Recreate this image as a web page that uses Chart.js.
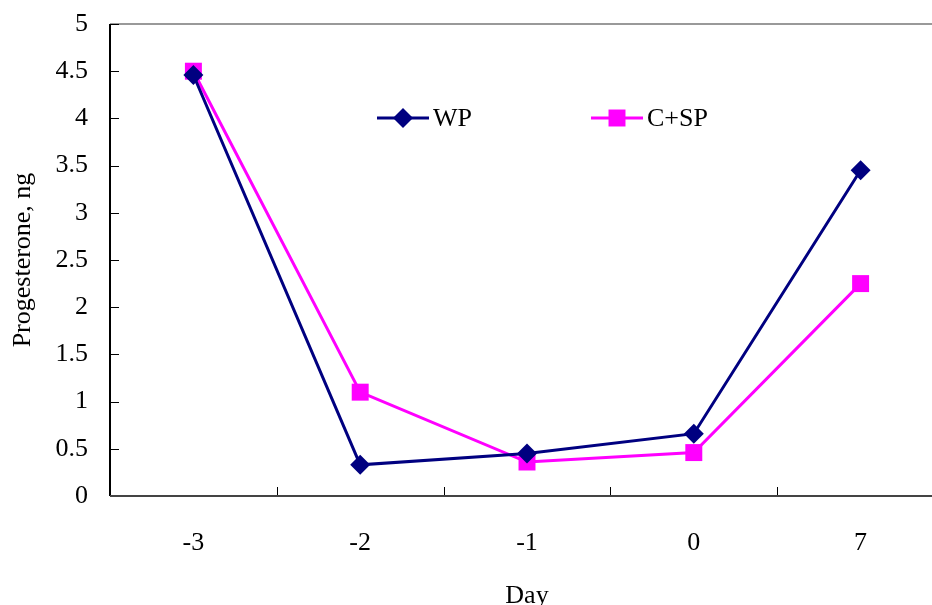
<!DOCTYPE html>
<html>
<head>
<meta charset="utf-8">
<script src="https://cdn.jsdelivr.net/npm/chart.js@4/dist/chart.umd.min.js"></script>
<style>
  html, body { margin: 0; padding: 0; background: #fff; overflow: hidden; }
  #wrap { width: 956px; height: 605px; }
</style>
</head>
<body>
<div id="wrap"><canvas id="chart" width="956" height="605"></canvas></div>
<script>
// Progesterone by day
const days = ['-3', '-2', '-1', '0', '7'];
const wp = [4.46, 0.33, 0.45, 0.66, 3.45];
const csp = [4.5, 1.1, 0.36, 0.46, 2.25];
const yTicks = [0, 0.5, 1, 1.5, 2, 2.5, 3, 3.5, 4, 4.5, 5];

const navy = '#000080';
const magenta = '#FF00FF';
const serif = "'Liberation Serif', 'DejaVu Serif', serif";

// inward tick marks + gray top border
const axisMarks = {
    id: 'axisMarks',
    afterDatasetsDraw(chart) {
        const ctx = chart.ctx;
        const a = chart.chartArea;
        const x = chart.scales.x, y = chart.scales.y;
        ctx.save();
        ctx.strokeStyle = '#999';
        ctx.lineWidth = 2;
        ctx.beginPath();
        ctx.moveTo(a.left, a.top);
        ctx.lineTo(a.right, a.top);
        ctx.stroke();
        ctx.strokeStyle = '#000';
        ctx.lineWidth = 1;
        ctx.beginPath();
        yTicks.forEach(v => {
            const py = Math.round(y.getPixelForValue(v)) + 0.5;
            ctx.moveTo(a.left, py);
            ctx.lineTo(a.left + 9, py);
        });
        for (let i = 1; i < days.length; i++) {
            const px = Math.round((x.getPixelForTick(i - 1) + x.getPixelForTick(i)) / 2) + 0.5;
            ctx.moveTo(px, a.bottom);
            ctx.lineTo(px, a.bottom - 9);
        }
        ctx.stroke();
        ctx.strokeStyle = '#000';
        ctx.lineWidth = 2;
        ctx.beginPath();
        ctx.moveTo(a.left, a.top);
        ctx.lineTo(a.left, a.bottom);
        ctx.stroke();
        ctx.strokeStyle = '#444';
        ctx.beginPath();
        ctx.moveTo(a.left, a.bottom);
        ctx.lineTo(a.right, a.bottom);
        ctx.stroke();
        ctx.restore();
    }
};

// legend drawn inside plot area
const innerLegend = {
    id: 'innerLegend',
    afterDraw(chart) {
        const ctx = chart.ctx;
        const items = [
            { ds: chart.data.datasets[0], x: 377 },
            { ds: chart.data.datasets[1], x: 591 }
        ];
        const ly = 118;
        ctx.save();
        items.forEach(it => {
            ctx.strokeStyle = it.ds.borderColor;
            ctx.lineWidth = 3;
            ctx.beginPath();
            ctx.moveTo(it.x, ly);
            ctx.lineTo(it.x + 52, ly);
            ctx.stroke();
            ctx.fillStyle = it.ds.pointBackgroundColor;
            Chart.helpers.drawPoint(ctx, {
                pointStyle: it.ds.pointStyle,
                rotation: 0,
                radius: it.ds.pointRadius,
                borderWidth: 0
            }, it.x + 26, ly);
            ctx.fillStyle = '#000';
            ctx.font = '26px ' + serif;
            ctx.textBaseline = 'middle';
            ctx.fillText(it.ds.label, it.x + 56, ly + 1);
        });
        ctx.restore();
    }
};

new Chart(document.getElementById('chart'), {
    type: 'line',
    data: {
        labels: days,
        datasets: [
            {
                label: 'WP',
                data: wp,
                borderColor: navy,
                backgroundColor: navy,
                pointBackgroundColor: navy,
                pointBorderColor: navy,
                pointBorderWidth: 0,
                pointStyle: 'rectRot',
                pointRadius: 10,
                borderWidth: 3,
                tension: 0
            },
            {
                label: 'C+SP',
                data: csp,
                borderColor: magenta,
                backgroundColor: magenta,
                pointBackgroundColor: magenta,
                pointBorderColor: magenta,
                pointBorderWidth: 0,
                pointStyle: 'rect',
                pointRadius: 12,
                borderWidth: 3,
                tension: 0
            }
        ]
    },
    options: {
        responsive: false,
        animation: false,
        layout: { padding: { top: 24, right: 8, left: 0, bottom: 0 } },
        plugins: {
            legend: { display: false },
            tooltip: { enabled: false }
        },
        scales: {
            x: {
                offset: true,
                grid: { display: false, drawTicks: false },
                border: { display: false },
                ticks: {
                    color: '#000',
                    padding: 32,
                    font: { family: serif, size: 26 }
                },
                title: {
                    display: true,
                    text: 'Day',
                    color: '#000',
                    font: { family: serif, size: 26 },
                    padding: { top: 0, bottom: -7 }
                },
                afterFit: s => {
                    s.height = 109;
                    s.paddingLeft = 0;
                    s.paddingRight = 0;
                }
            },
            y: {
                min: 0,
                max: 5,
                afterBuildTicks: s => { s.ticks = yTicks.map(v => ({ value: v })); },
                grid: { display: false, drawTicks: false },
                border: { display: false },
                ticks: {
                    color: '#000',
                    padding: 22,
                    font: { family: serif, size: 26 },
                    callback: v => String(v)
                },
                title: {
                    display: true,
                    text: 'Progesterone, ng',
                    color: '#000',
                    font: { family: serif, size: 26 },
                    padding: { top: 8, bottom: 0 }
                },
                afterFit: s => {
                    s.width = 110;
                    s.paddingTop = 0;
                    s.paddingBottom = 0;
                }
            }
        }
    },
    plugins: [axisMarks, innerLegend]
});
</script>
</body>
</html>
